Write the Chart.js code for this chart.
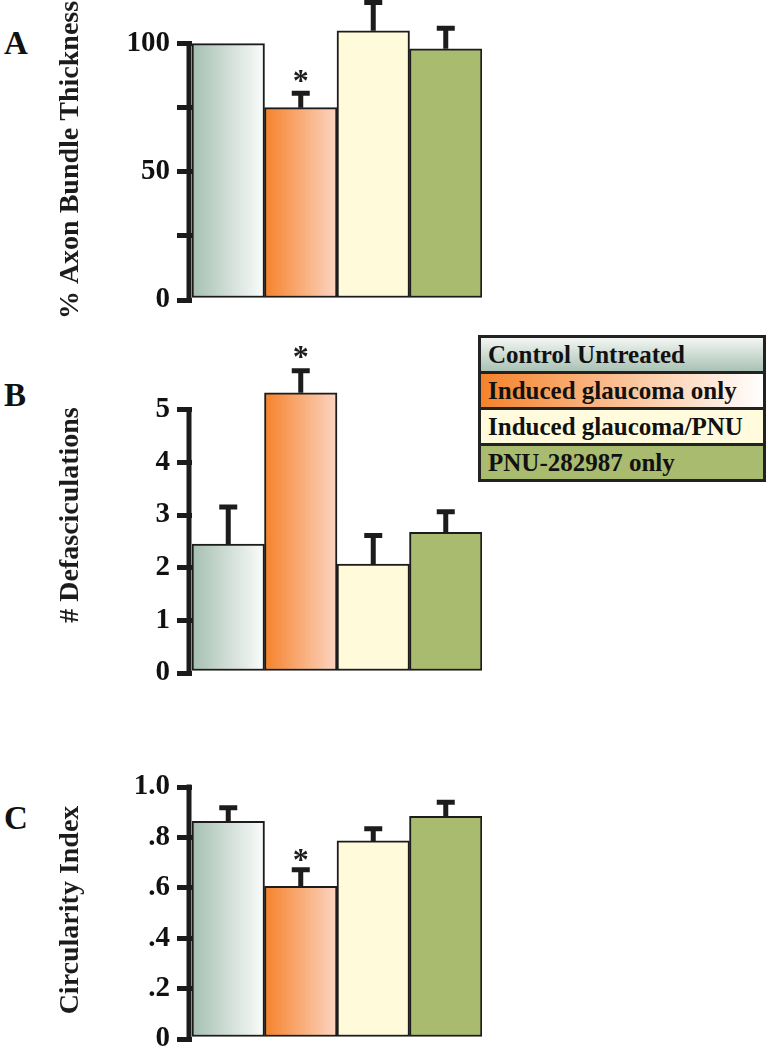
<!DOCTYPE html>
<html>
<head>
<meta charset="utf-8">
<script src="https://cdn.jsdelivr.net/npm/chart.js@4.4.1/dist/chart.umd.min.js"></script>
<style>
	body { margin: 0; width: 768px; height: 1050px; overflow: hidden; background: #fff; position: relative; }
	canvas { position: absolute; left: 0; }
	.letter { position: absolute; left: 4px; font: bold 33px/1 "Liberation Serif", serif; color: #111; }
	#legend { position: absolute; left: 478px; top: 335px; width: 282px; border: 3px solid #222; }
	#legend div { height: 33px; font: bold 25px/33px "Liberation Serif", serif; padding-left: 7px; border-top: 3px solid #222; color: #111; white-space: nowrap; overflow: hidden; }
	#legend div:first-child { border-top: none; }
</style>
</head>
<body>
<div class="letter" style="top:27px">A</div>
<div class="letter" style="top:379px">B</div>
<div class="letter" style="top:802px">C</div>

<canvas id="chartA" width="482" height="352" style="top:-26px"></canvas>
<canvas id="chartB" width="482" height="369" style="top:330px"></canvas>
<canvas id="chartC" width="482" height="330" style="top:740px"></canvas>

<div id="legend"></div>

<script>
const categories = ["Control Untreated", "Induced glaucoma only", "Induced glaucoma/PNU", "PNU-282987 only"];
const significant = [false, true, false, false];

// A - % axon bundle thickness
const thickness = [100, 75, 105, 98];
const thicknessErr = [0, 5.6, 11, 8];
const thicknessTicks = [0, 25, 50, 75, 100];
const thicknessLabels = ["0", "", "50", "", "100"];

// B - defasciculations
const defasc = [2.45, 5.32, 2.07, 2.67];
const defascErr = [0.7, 0.42, 0.54, 0.39];
const defascTicks = [0, 1, 2, 3, 4, 5];
const defascLabels = ["0", "1", "2", "3", "4", "5"];

// C - circularity index
const circularity = [0.864, 0.606, 0.786, 0.884];
const circularityErr = [0.054, 0.066, 0.048, 0.055];
const circularityTicks = [0, 0.2, 0.4, 0.6, 0.8, 1.0];
const circularityLabels = ["0", ".2", ".4", ".6", ".8", "1.0"];

// bar fills (two stops = left-to-right gradient)
const fills = [["#a5bfb2", "#fbfcfb"], ["#f5822a", "#fcd5c3"], ["#fffad9"], ["#a9bb6e"]];
const legendBg = [
	"linear-gradient(to bottom, #f3f6f3, #a9c2b5)",
	"linear-gradient(to right, #f5822a, #ffffff)",
	"#fffbdc",
	"#a9bb6e",
];
const ink = "#1c1c1c";

function barFill(context) {
	const { ctx, chartArea, scales } = context.chart;
	const i = context.dataIndex;
	if (i === undefined || !chartArea) return fills[0][0];
	const stops = fills[i];
	if (stops.length === 1) return stops[0];
	const half = (chartArea.right - chartArea.left) / categories.length / 2;
	const cx = scales.x.getPixelForValue(i);
	const g = ctx.createLinearGradient(cx - half, 0, cx + half, 0);
	g.addColorStop(0, stops[0]);
	g.addColorStop(1, stops[1]);
	return g;
}

function makePanel(id, p) {
	const decor = {
		id: "decor",
		afterDatasetsDraw(chart) {
			const ctx = chart.ctx;
			const x = chart.scales.x;
			const y = chart.scales.y;
			ctx.save();
			ctx.strokeStyle = ink;
			ctx.fillStyle = ink;

			// error bars (upper only)
			ctx.lineWidth = 5;
			p.values.forEach((v, i) => {
				if (!p.errors[i]) return;
				const cx = x.getPixelForValue(i);
				const y0 = y.getPixelForValue(v);
				const y1 = y.getPixelForValue(v + p.errors[i]);
				ctx.beginPath();
				ctx.moveTo(cx, y0);
				ctx.lineTo(cx, y1);
				ctx.moveTo(cx - 9, y1);
				ctx.lineTo(cx + 9, y1);
				ctx.stroke();
				if (significant[i]) {
					ctx.font = "bold 32px 'Liberation Serif'";
					ctx.textAlign = "center";
					ctx.textBaseline = "alphabetic";
					ctx.fillText("*", cx, y1 - 2 + p.starShift);
				}
			});

			// y axis line, only up to the last tick
			const ax = chart.chartArea.left - 3;
			ctx.lineWidth = 5;
			ctx.beginPath();
			ctx.moveTo(ax, y.getPixelForValue(0) + 2.5);
			ctx.lineTo(ax, y.getPixelForValue(p.ticks[p.ticks.length - 1]) - 2.5);
			ctx.stroke();

			// axis title
			const ca = chart.chartArea;
			ctx.translate(71, (ca.top + ca.bottom) / 2 + p.titleShift);
			ctx.rotate(-Math.PI / 2);
			ctx.font = "bold 28px 'Liberation Serif'";
			ctx.textAlign = "center";
			ctx.textBaseline = "middle";
			ctx.fillText(p.title, 0, 0);
			ctx.restore();
		},
	};

	return new Chart(document.getElementById(id), {
		type: "bar",
		data: {
			labels: categories,
			datasets: [
				{
					data: p.values,
					backgroundColor: barFill,
					borderColor: ink,
					borderWidth: 2,
					borderSkipped: false,
					barPercentage: 1,
					categoryPercentage: 1,
				},
			],
		},
		options: {
			responsive: false,
			animation: false,
			layout: { padding: { top: p.padTop, bottom: p.padBottom, left: 0, right: 0 } },
			plugins: { legend: { display: false }, tooltip: { enabled: false } },
			scales: {
				x: { display: false },
				y: {
					min: 0,
					max: p.max,
					border: { display: false },
					grid: { drawOnChartArea: false, drawTicks: true, tickLength: 15, lineWidth: 5, color: ink },
					ticks: {
						autoSkip: false,
						padding: 7,
						color: "#111",
						font: { family: "'Liberation Serif'", size: 29, weight: "bold", lineHeight: 1.1 },
						callback: (value) => {
							const k = p.ticks.findIndex((t) => Math.abs(t - value) < 1e-9);
							return k < 0 ? "" : p.labels[k];
						},
					},
					afterBuildTicks: (scale) => {
						scale.ticks = p.ticks.map((v) => ({ value: v }));
					},
					afterFit: (scale) => {
						scale.width = 192;
					},
				},
			},
		},
		plugins: [decor],
	});
}

makePanel("chartA", {
	values: thickness, errors: thicknessErr, ticks: thicknessTicks, labels: thicknessLabels,
	max: 117, padTop: 26, padBottom: 26, title: "% Axon Bundle Thickness", titleShift: 10, starShift: 0,
});
makePanel("chartB", {
	values: defasc, errors: defascErr, ticks: defascTicks, labels: defascLabels,
	max: 6, padTop: 27, padBottom: 26, title: "# Defasciculations", titleShift: 0, starShift: -2,
});
makePanel("chartC", {
	values: circularity, errors: circularityErr, ticks: circularityTicks, labels: circularityLabels,
	max: 1.0, padTop: 47, padBottom: 31, title: "Circularity Index", titleShift: -3, starShift: 2,
});

// legend
const legend = document.getElementById("legend");
categories.forEach((name, i) => {
	const row = document.createElement("div");
	row.textContent = name;
	row.style.background = legendBg[i];
	legend.appendChild(row);
});
</script>
</body>
</html>
